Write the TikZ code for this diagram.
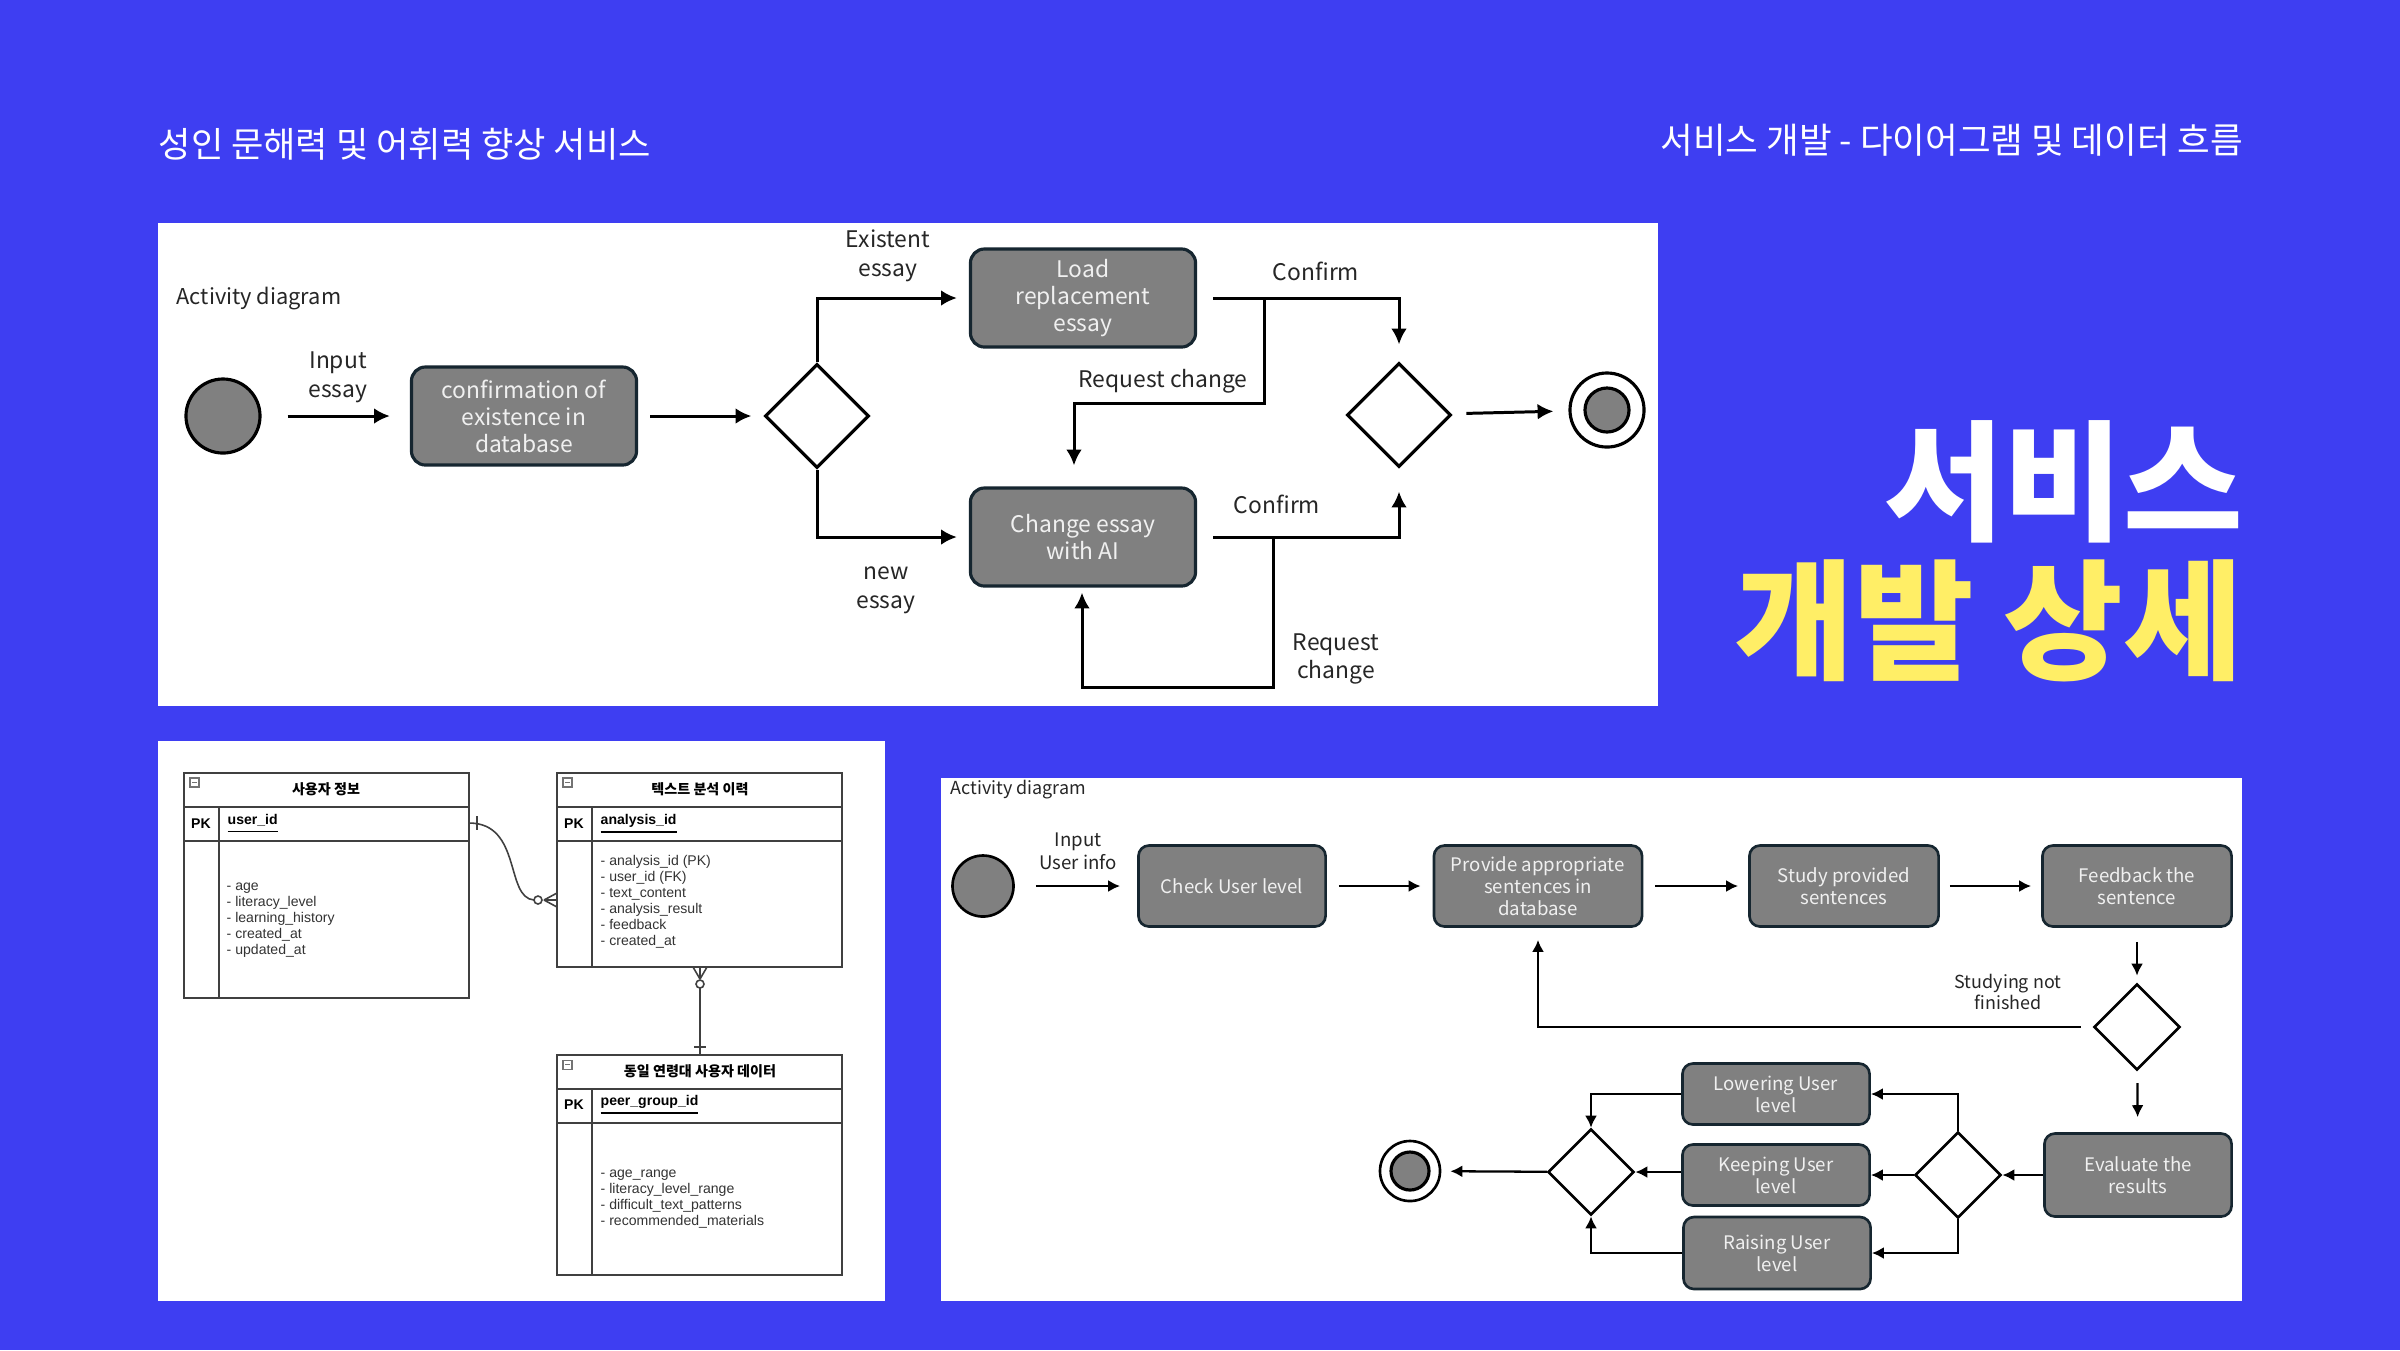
\documentclass[tikz,border=0pt]{standalone}
\usepackage{fontspec}
\usetikzlibrary{shapes.geometric, arrows.meta}

\newfontfamily\krfont{Noto Sans CJK KR}
\newfontfamily\erfont{Liberation Sans}

\definecolor{slideblue}{RGB}{62,62,242}
\definecolor{titleyellow}{RGB}{255,238,102}
\definecolor{actgray}{RGB}{128,128,128}
\definecolor{actedge}{RGB}{22,38,48}

\begin{document}
\begin{tikzpicture}[x = 0.01cm, y = -0.01cm, > = {Latex[length = 4.5pt, width = 4.5pt]},
	every node/.style = {inner sep = 0pt},
	act/.style = {rectangle, draw = actedge, fill = actgray, rounded corners = 4pt, line width = 0.9pt, text = white!94!black, align = center, font = \krfont\fontsize{6.5}{7.7}\selectfont},
	actsmall/.style = {act, rounded corners = 3pt, line width = 0.75pt, font = \krfont\fontsize{5.3}{6.3}\selectfont},
	choice/.style = {diamond, draw, fill = white, line width = 0.9pt},
	startdot/.style = {circle, draw, fill = actgray, line width = 0.9pt},
	enddot/.style = {circle, draw, fill = white, line width = 0.9pt, path picture = {\draw[fill = actgray, line width = 0.9pt] (path picture bounding box.center) circle (#1);}},
	flow/.style = {->, line width = 0.85pt},
	flowsmall/.style = {->, line width = 0.65pt, > = {Latex[length = 3.4pt, width = 3.4pt]}},
	lbl/.style = {align = center, text = black!85, font = \krfont\fontsize{6.5}{8.2}\selectfont},
	lblsmall/.style = {lbl, font = \krfont\fontsize{5.1}{6.2}\selectfont},
	erline/.style = {draw = black!75, line width = 0.45pt},
	erhead/.style = {font = \krfont\bfseries\fontsize{4}{4.8}\selectfont},
	erkey/.style = {font = \erfont\bfseries\fontsize{4}{4.8}\selectfont},
	erfield/.style = {anchor = west, align = left, text = black!80, font = \erfont\fontsize{4}{4.55}\selectfont}
]
\fill[slideblue] (0,0) rectangle (2400,1350);
\useasboundingbox (0,0) rectangle (2400,1350);

% headings
\node[anchor = base west, text = white, font = \krfont\fontsize{10}{12}\selectfont] (hleft) at (158,157) {성인 문해력 및 어휘력 향상 서비스};
\node[anchor = base east, text = white, font = \krfont\fontsize{10.1}{12}\selectfont] (hright) at (2244,153) {서비스 개발 - 다이어그램 및 데이터 흐름};
\node[anchor = base east, text = white, font = \krfont\bfseries\fontsize{37}{44}\selectfont] (tmain) at (2244,530) {서비스};
\node[anchor = base east, text = titleyellow, font = \krfont\bfseries\fontsize{37}{44}\selectfont] (tsub) at (2244,669) {개발 상세};

% essay activity diagram
\fill[white] (158,223) rectangle (1658,706);
\node[lbl, anchor = west, font = \krfont\fontsize{6.2}{7}\selectfont] (actA) at (176,299) {Activity diagram};

\node[startdot, minimum size = 0.74cm] (s1) at (223,416) {};
\node[act, minimum width = 2.25cm, minimum height = 0.98cm] (conf) at (524,416) {confirmation of\\existence in\\database};
\node[choice, minimum size = 1.04cm] (d1) at (817,416) {};
\node[act, minimum width = 2.25cm, minimum height = 0.98cm] (load) at (1083,298) {Load\\replacement\\essay};
\node[act, minimum width = 2.25cm, minimum height = 0.98cm] (change) at (1083,537) {Change essay\\with AI};
\node[choice, minimum size = 1.04cm] (d2) at (1399,415) {};
\node[enddot = 0.22cm, minimum size = 0.74cm] (e1) at (1607,410) {};

\coordinate (lbr) at (1264,298);
\coordinate (rc1) at (1074,403);
\coordinate (cbr) at (1273,537);
\coordinate (rc2) at (1082,687);

\draw[flow, shorten <= 0.26cm, shorten >= 0.2cm] (s1) -- (conf);
\draw[flow, shorten <= 0.12cm, shorten >= 0.12cm] (conf) -- (d1);
\draw[flow, shorten >= 0.12cm] (d1.north) |- (load.west);
\draw[flow, shorten >= 0.12cm] (d1.south) |- (change.west);
\draw[flow, shorten <= 0.16cm, shorten >= 0.17cm] (load.east) -| (d2.north);
\draw[flow, shorten >= 0.21cm] (lbr) |- (rc1) -- (rc1 |- change.north);
\draw[flow, shorten <= 0.16cm, shorten >= 0.23cm] (change.east) -| (d2.south);
\draw[flow, shorten >= 0.05cm] (cbr) |- (rc2) -- (rc2 |- change.south);
\draw[flow, shorten <= 0.15cm, shorten >= 0.15cm] (d2) -- (e1);

\node[lbl] (lInput) at (338,377) {Input\\essay};
\node[lbl] (lExist) at (888,256) {Existent\\essay};
\node[lbl] (lNew) at (886,590) {new\\essay};
\node[lbl] (lConfA) at (1316,271) {Confirm};
\node[lbl] (lReqA) at (1163,381) {Request change};
\node[lbl] (lConfB) at (1277,504) {Confirm};
\node[lbl] (lReqB) at (1336,659) {Request\\change};

% ER diagram
\fill[white] (158,741) rectangle (885,1301);
\foreach \tx/\ty/\tb in {184/773/998, 557/773/967, 557/1055/1275} {
	\draw[erline] (\tx,\ty) rectangle (\tx+285,\tb);
	\draw[erline] (\tx,\ty+34) -- +(285,0) (\tx,\ty+68) -- +(285,0) (\tx+35,\ty+34) -- (\tx+35,\tb);
	\draw[black!55, line width = 0.3pt, fill = white] (\tx+6,\ty+5) rectangle +(9,9);
	\draw[black!55, line width = 0.3pt] (\tx+8,\ty+9.5) -- +(5,0);
}
\node[erhead] (hUser) at (326,789) {사용자 정보};
\node[erkey] (kUser) at (201,824) {PK};
\node[erkey, anchor = west] (idUser) at (227,824) {\underline{user\_id}};
\node[erfield] (fUser) at (226,920) {- age\\- literacy\_level\\- learning\_history\\- created\_at\\- updated\_at};

\node[erhead] (hText) at (700,789) {텍스트 분석 이력};
\node[erkey] (kText) at (574,824) {PK};
\node[erkey, anchor = west] (idText) at (600,824) {\underline{analysis\_id}};
\node[erfield] (fText) at (600,902) {- analysis\_id (PK)\\- user\_id (FK)\\- text\_content\\- analysis\_result\\- feedback\\- created\_at};

\node[erhead] (hPeer) at (700,1071) {동일 연령대 사용자 데이터};
\node[erkey] (kPeer) at (574,1105) {PK};
\node[erkey, anchor = west] (idPeer) at (600,1105) {\underline{peer\_group\_id}};
\node[erfield] (fPeer) at (600,1199) {- age\_range\\- literacy\_level\_range\\- difficult\_text\_patterns\\- recommended\_materials};

\coordinate (u1) at (469,823);
\coordinate (a1) at (557,900);
\coordinate (a2) at (700,967);
\coordinate (p1) at (700,1055);

\draw[erline] (u1) .. controls (522,823) and (505,898) .. ([xshift = -0.23cm]a1);
\draw[erline] ([xshift = 0.08cm, yshift = 0.07cm]u1) -- ([xshift = 0.08cm, yshift = -0.07cm]u1);
\draw[erline, fill = white] ([xshift = -0.19cm]a1) circle (0.04cm);
\draw[erline] ([xshift = -0.13cm]a1) -- ([yshift = 0.07cm]a1) ([xshift = -0.13cm]a1) -- (a1) ([xshift = -0.13cm]a1) -- ([yshift = -0.07cm]a1);

\draw[erline] ([yshift = -0.21cm]a2) -- (p1);
\draw[erline, fill = white] ([yshift = -0.17cm]a2) circle (0.04cm);
\draw[erline] ([yshift = -0.12cm]a2) -- ([xshift = -0.07cm]a2) ([yshift = -0.12cm]a2) -- (a2) ([yshift = -0.12cm]a2) -- ([xshift = 0.07cm]a2);
\draw[erline] ([xshift = -0.06cm, yshift = 0.08cm]p1) -- ([xshift = 0.06cm, yshift = 0.08cm]p1);

% study activity diagram
\fill[white] (941,778) rectangle (2242,1301);
\node[lblsmall, anchor = west] (actB) at (950,790) {Activity diagram};

\node[startdot, minimum size = 0.61cm, line width = 0.75pt] (s2) at (983,886) {};
\node[actsmall, minimum width = 1.87cm, minimum height = 0.81cm] (check) at (1232,886) {Check User level};
\node[actsmall, minimum width = 2.08cm, minimum height = 0.81cm] (provide) at (1538,886) {Provide appropriate\\sentences in\\database};
\node[actsmall, minimum width = 1.89cm, minimum height = 0.81cm] (study) at (1844,886) {Study provided\\sentences};
\node[actsmall, minimum width = 1.89cm, minimum height = 0.81cm] (feed) at (2137,886) {Feedback the\\sentence};
\node[choice, minimum size = 0.86cm, line width = 0.75pt] (dB) at (2137,1027) {};
\node[actsmall, minimum width = 1.87cm, minimum height = 0.83cm] (eval) at (2138,1175) {Evaluate the\\results};
\node[choice, minimum size = 0.86cm, line width = 0.75pt] (dC) at (1958,1175) {};
\node[actsmall, minimum width = 1.87cm, minimum height = 0.61cm] (lower) at (1776,1094) {Lowering User\\level};
\node[actsmall, minimum width = 1.87cm, minimum height = 0.61cm] (keep) at (1776,1175) {Keeping User\\level};
\node[actsmall, minimum width = 1.87cm, minimum height = 0.72cm] (raise) at (1777,1253) {Raising User\\level};
\node[choice, minimum size = 0.86cm, line width = 0.75pt] (dM) at (1591,1172) {};
\node[enddot = 0.19cm, minimum size = 0.6cm, line width = 0.75pt] (e2) at (1410,1171) {};

\draw[flowsmall, shorten <= 0.21cm, shorten >= 0.17cm] (s2) -- (check);
\draw[flowsmall, shorten <= 0.12cm, shorten >= 0.12cm] (check) -- (provide);
\draw[flowsmall, shorten <= 0.12cm, shorten >= 0.1cm] (provide) -- (study);
\draw[flowsmall, shorten <= 0.1cm, shorten >= 0.1cm] (study) -- (feed);
\draw[flowsmall, shorten <= 0.14cm, shorten >= 0.07cm] (feed) -- (dB);
\draw[flowsmall, shorten <= 0.12cm, shorten >= 0.12cm] (dB.west) -| (provide.south);
\draw[flowsmall, shorten <= 0.12cm, shorten >= 0.15cm] (dB) -- (eval);
\draw[flowsmall] (eval) -- (dC);
\draw[flowsmall] (dC.north) |- (lower.east);
\draw[flowsmall] (dC) -- (keep);
\draw[flowsmall] (dC.south) |- (raise.east);
\draw[flowsmall] (lower.west) -| (dM.north);
\draw[flowsmall] (keep.west |- dM) -- (dM.east);
\draw[flowsmall] (raise.west) -| (dM.south);
\draw[flowsmall, shorten >= 0.09cm] (dM) -- (e2);

\node[lblsmall, font = \krfont\fontsize{5.3}{6.5}\selectfont] (lInfo) at (1078,851) {Input\\User info};
\node[lblsmall] (lNot) at (2008,992) {Studying not\\finished};
\end{tikzpicture}
\end{document}
